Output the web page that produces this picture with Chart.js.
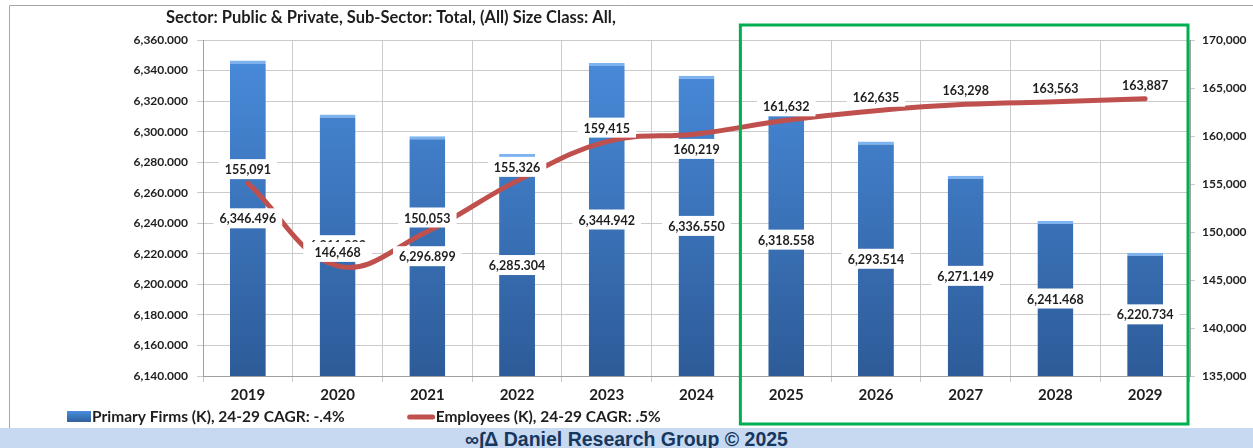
<!DOCTYPE html>
<html>
<head>
<meta charset="utf-8">
<script src="https://cdn.jsdelivr.net/npm/chart.js@4.4.1/dist/chart.umd.min.js"></script>
<style>
  html, body { margin: 0; padding: 0; background: #fff; }
  #wrap { position: relative; width: 1253px; height: 448px; overflow: hidden; }
  #chart-box { position: absolute; left: 0; top: 0; width: 1253px; height: 428px; }
  #footer {
    position: absolute; left: 0; top: 428px; width: 1253px; height: 20px;
    background: #c6d9f1; color: #17375e; text-align: center;
    font: bold 19.5px "Liberation Sans", Arial, sans-serif; line-height: 22px;
  }
</style>
</head>
<body>
<div id="wrap">
  <div id="chart-box"><canvas id="chart"></canvas></div>
  <div id="footer">∞∫Δ Daniel Research Group © 2025</div>
</div>
<script>
// Data
const years = ["2019", "2020", "2021", "2022", "2023", "2024", "2025", "2026", "2027", "2028", "2029"];
const firms = [6346.496, 6311.293, 6296.899, 6285.304, 6344.942, 6336.550, 6318.558, 6293.514, 6271.149, 6241.468, 6220.734];
const employees = [155091, 146468, 150053, 155326, 159415, 160219, 161632, 162635, 163298, 163563, 163887];
const firmsAxis = { min: 6140, max: 6360, step: 20 };
const empAxis = { min: 135000, max: 170000, step: 5000 };

const titleText = "Sector: Public & Private, Sub-Sector: Total, (All) Size Class: All,";
const firmsLabel = "Primary Firms (K), 24-29 CAGR: -.4%";
const empLabel = "Employees (K), 24-29 CAGR: .5%";

// Style
const FONT = "Lato, 'Open Sans', sans-serif";
const RED = "#c0504d";
const GRID = "#cbcbcb";
const lineLabelBelow = [5]; // 2024 label sits under the line

const fmt3 = v => v.toLocaleString("en-US", { minimumFractionDigits: 3, maximumFractionDigits: 3 });
const fmt0 = v => Math.round(v).toLocaleString("en-US");

function barGradient(c, top, bottom) {
  const g = c.createLinearGradient(0, top, 0, bottom);
  g.addColorStop(0, "#4a8ddd");
  g.addColorStop(1, "#2d5b98");
  return g;
}

function labelBox(c, txt, x, y) {
  const w = c.measureText(txt).width + 12;
  c.fillStyle = "#ffffff";
  c.fillRect(x - w / 2, y - 10, w, 20);
  c.fillStyle = "#1e1e1e";
  c.fillText(txt, x, y + 1);
}

// Frame + title
const framePlugin = {
  id: "frame",
  beforeDraw(chart) {
    const c = chart.ctx;
    c.save();
    c.fillStyle = "#fff";
    c.fillRect(0, 0, chart.width, chart.height);
    c.strokeStyle = "#a6a6a6";
    c.lineWidth = 1;
    c.beginPath();
    c.moveTo(9.5, chart.height);
    c.lineTo(9.5, 5.5);
    c.lineTo(chart.width, 5.5);
    c.stroke();
    c.font = "bold 16.5px " + FONT;
    c.fillStyle = "#1e1e1e";
    c.textAlign = "left";
    c.textBaseline = "middle";
    c.fillText(titleText, 166, 18);
    c.restore();
  }
};

// Data labels
const labelPlugin = {
  id: "labels",
  afterDatasetsDraw(chart) {
    const c = chart.ctx;
    const base = chart.scales.y.getPixelForValue(firmsAxis.min);
    c.save();
    c.font = "bold 12.5px " + FONT;
    c.textAlign = "center";
    c.textBaseline = "middle";
    chart.getDatasetMeta(0).data.forEach((bar, i) => {
      const top = chart.scales.y.getPixelForValue(firms[i]);
      labelBox(c, fmt3(firms[i]), bar.x, (top + base) / 2);
    });
    chart.getDatasetMeta(1).data.forEach((pt, i) => {
      const dy = lineLabelBelow.includes(i) ? 15 : -14;
      labelBox(c, fmt0(employees[i]), pt.x, pt.y + dy);
    });
    c.restore();
  }
};

// Forecast box + legend
const extrasPlugin = {
  id: "extras",
  afterDraw(chart) {
    const c = chart.ctx;
    const area = chart.chartArea;
    const xs = chart.scales.x;
    const left = (xs.getPixelForValue(5) + xs.getPixelForValue(6)) / 2 - 1;
    c.save();
    c.strokeStyle = "#00b050";
    c.lineWidth = 3;
    c.strokeRect(left, area.top - 15, area.right - 2 - left, 424 - (area.top - 15));

    // legend
    const ly = 417;
    c.font = "bold 15.5px " + FONT;
    c.textBaseline = "middle";
    c.textAlign = "left";
    c.fillStyle = barGradient(c, ly - 6, ly + 6);
    c.fillRect(67, ly - 6, 24, 11);
    c.fillStyle = "#1e1e1e";
    c.fillText(firmsLabel, 92, ly);
    const x2 = 92 + c.measureText(firmsLabel).width + 62;
    c.strokeStyle = RED;
    c.lineWidth = 5;
    c.lineCap = "round";
    c.beginPath();
    c.moveTo(x2 + 3, ly);
    c.lineTo(x2 + 26, ly);
    c.stroke();
    c.fillStyle = "#1e1e1e";
    c.fillText(empLabel, x2 + 29, ly);
    c.restore();
  }
};

new Chart(document.getElementById("chart"), {
  data: {
    labels: years,
    datasets: [
      {
        type: "bar",
        label: firmsLabel,
        data: firms,
        yAxisID: "y",
        order: 1,
        barPercentage: 0.4,
        categoryPercentage: 1.0,
        backgroundColor: ctx => {
          const a = ctx.chart.chartArea;
          if (!a) return "#3a75c0";
          return barGradient(ctx.chart.ctx, a.top, a.bottom);
        },
        borderColor: "#7db3f0",
        borderWidth: { top: 3, left: 0, right: 0, bottom: 0 },
        borderSkipped: "bottom"
      },
      {
        type: "line",
        label: empLabel,
        data: employees,
        yAxisID: "y1",
        order: 0,
        borderColor: RED,
        borderWidth: 5,
        borderCapStyle: "round",
        tension: 0.4,
        pointRadius: 0,
        fill: false
      }
    ]
  },
  options: {
    responsive: true,
    maintainAspectRatio: false,
    devicePixelRatio: 1,
    animation: false,
    layout: { padding: { top: 40, left: 0, right: 0, bottom: 24 } },
    plugins: {
      legend: { display: false },
      tooltip: { enabled: false },
      title: { display: false }
    },
    scales: {
      x: {
        offset: true,
        grid: { offset: true, color: GRID, tickLength: 6 },
        border: { color: "#a0a0a0" },
        ticks: { color: "#1e1e1e", font: { family: FONT, size: 15, weight: "bold" }, padding: 4 },
        afterFit: s => { s.height = 28; }
      },
      y: {
        position: "left",
        min: firmsAxis.min,
        max: firmsAxis.max,
        ticks: {
          stepSize: firmsAxis.step,
          color: "#1e1e1e",
          font: { family: FONT, size: 12, weight: "bold" },
          padding: 9,
          callback: v => fmt3(v)
        },
        grid: { color: GRID, tickLength: 6 },
        border: { color: "#a0a0a0" },
        afterFit: s => { s.width = 203; }
      },
      y1: {
        position: "right",
        min: empAxis.min,
        max: empAxis.max,
        ticks: {
          stepSize: empAxis.step,
          color: "#1e1e1e",
          font: { family: FONT, size: 12, weight: "bold" },
          padding: 7,
          callback: v => fmt0(v)
        },
        grid: { drawOnChartArea: false, color: GRID, tickLength: 5 },
        border: { color: "#a0a0a0" },
        afterFit: s => { s.width = 63; }
      }
    }
  },
  plugins: [framePlugin, labelPlugin, extrasPlugin]
});
</script>
</body>
</html>
